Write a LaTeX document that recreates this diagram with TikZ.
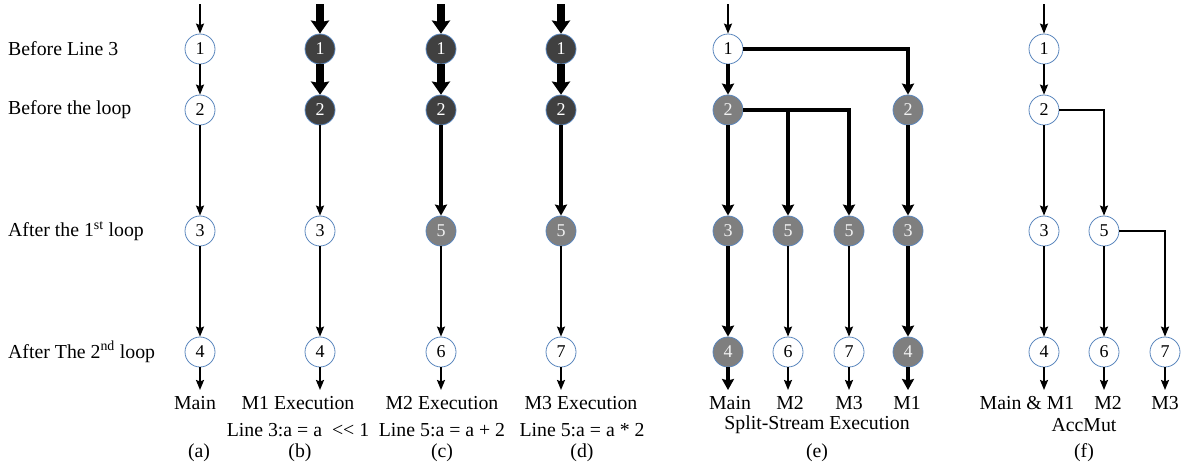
\documentclass[tikz,border=0pt]{standalone}
\usepackage{fontspec}
\setmainfont{Liberation Serif}
\usetikzlibrary{arrows.meta}
\definecolor{nodeborder}{RGB}{91,135,190}
\definecolor{darkfill}{RGB}{64,64,64}
\definecolor{grayfill}{RGB}{127,127,127}
\tikzset{
 st/.style={circle, draw=nodeborder, line width=0.8pt, minimum size=30pt, inner sep=0pt, font=\fontsize{18}{20}\selectfont},
 wn/.style={st, fill=white, text=black},
 dn/.style={st, fill=darkfill, text=white},
 gn/.style={st, fill=grayfill, text=white!95!black},
 arrA/.style={draw, line width=1.8pt, -{Stealth[length=10pt,width=8pt,inset=1.5pt]}},
 arrB/.style={draw, line width=4.5pt, -{Stealth[length=11pt,width=12pt,inset=1.5pt]}},
 arrC/.style={draw, line width=8pt, -{Stealth[length=13pt,width=18pt,inset=1.5pt]}},
 lbl/.style={font=\fontsize{19.8}{24}\selectfont, inner sep=0pt},
}
\begin{document}
\begin{tikzpicture}[x=1pt,y=-1pt]
\useasboundingbox (0,0) rectangle (1186,467);
% left labels
\node[lbl, anchor=west] (l1) at (8,49) {Before Line 3};
\node[lbl, anchor=west] (l2) at (8,110) {Before the loop};
\node[lbl, anchor=west] (l3) at (8,231) {After the 1\textsuperscript{st} loop};
\node[lbl, anchor=west] (l4) at (8,352) {After The 2\textsuperscript{nd} loop};

% (a)
\coordinate (ta) at (200,4); \coordinate (oa) at (200,390);
\node[wn] (a1) at (200,49) {1};
\node[wn] (a2) at (200,110) {2};
\node[wn] (a3) at (200,231) {3};
\node[wn] (a4) at (200,352) {4};
\path[arrA] (ta) -- (a1);
\path[arrA] (a1) -- (a2);
\path[arrA] (a2) -- (a3);
\path[arrA] (a3) -- (a4);
\path[arrA] (a4) -- (oa);
\node[lbl] (la) at (195,403) {Main};
\node[lbl] (ca) at (199,453) {(a)};

% (b)
\coordinate (tb) at (320,4); \coordinate (ob) at (320,390);
\node[dn] (b1) at (320,49) {1};
\node[dn] (b2) at (320,110) {2};
\node[wn] (b3) at (320,231) {3};
\node[wn] (b4) at (320,352) {4};
\path[arrC] (tb) -- (b1);
\path[arrC] (b1) -- (b2);
\path[arrA] (b2) -- (b3);
\path[arrA] (b3) -- (b4);
\path[arrA] (b4) -- (ob);
\node[lbl] (lb) at (298,403) {M1 Execution};
\node[lbl] (lb2) at (298,430) {Line 3:a = a\ \ <\kern0pt< 1};
\node[lbl] (cb) at (300,453) {(b)};

% (c)
\coordinate (tc) at (441,4); \coordinate (oc) at (441,390);
\node[dn] (c1) at (441,49) {1};
\node[dn] (c2) at (441,110) {2};
\node[gn] (c5) at (441,231) {5};
\node[wn] (c6) at (441,352) {6};
\path[arrC] (tc) -- (c1);
\path[arrC] (c1) -- (c2);
\path[arrB] (c2) -- (c5);
\path[arrA] (c5) -- (c6);
\path[arrA] (c6) -- (oc);
\node[lbl] (lc) at (442,403) {M2 Execution};
\node[lbl] (lc2) at (442,430) {Line 5:a = a + 2};
\node[lbl] (cc) at (442,453) {(c)};

% (d)
\coordinate (td) at (561,4); \coordinate (od) at (561,390);
\node[dn] (d1) at (561,49) {1};
\node[dn] (d2) at (561,110) {2};
\node[gn] (d5) at (561,231) {5};
\node[wn] (d7) at (561,352) {7};
\path[arrC] (td) -- (d1);
\path[arrC] (d1) -- (d2);
\path[arrB] (d2) -- (d5);
\path[arrA] (d5) -- (d7);
\path[arrA] (d7) -- (od);
\node[lbl] (ld) at (581,403) {M3 Execution};
\node[lbl] (ld2) at (582,430) {Line 5:a = a * 2};
\node[lbl] (cd) at (582,453) {(d)};

% (e)
\coordinate (te) at (728,4);
\coordinate (oe1) at (728,390); \coordinate (oe2) at (788,390);
\coordinate (oe3) at (849,390); \coordinate (oe4) at (908,390);
\node[wn] (e1) at (728,49) {1};
\node[gn] (e2) at (728,110) {2};
\node[gn] (e2r) at (908,110) {2};
\node[gn] (e3) at (728,231) {3};
\node[gn] (e5a) at (788,231) {5};
\node[gn] (e5b) at (849,231) {5};
\node[gn] (e3r) at (908,231) {3};
\node[gn] (e4) at (728,352) {4};
\node[wn] (e6) at (788,352) {6};
\node[wn] (e7) at (849,352) {7};
\node[gn] (e4r) at (908,352) {4};
\path[arrA] (te) -- (e1);
\path[arrB] (e1) -- (e2);
\path[arrB] (e1.east) -| (e2r.north);
\path[arrB] (e2) -- (e3);
\path[arrB] (e2.east) -| (e5a.north);
\path[arrB] (e2.east) -| (e5b.north);
\path[arrB] (e2r) -- (e3r);
\path[arrB] (e3) -- (e4);
\path[arrA] (e5a) -- (e6);
\path[arrA] (e5b) -- (e7);
\path[arrB] (e3r) -- (e4r);
\path[arrB] (e4) -- (oe1);
\path[arrA] (e6) -- (oe2);
\path[arrA] (e7) -- (oe3);
\path[arrB] (e4r) -- (oe4);
\node[lbl] (le1) at (730,403) {Main};
\node[lbl] (le2) at (790,403) {M2};
\node[lbl] (le3) at (849,403) {M3};
\node[lbl] (le4) at (907,403) {M1};
\node[lbl] (le5) at (817,425) {Split-Stream Execution};
\node[lbl] (ce) at (817,453) {(e)};

% (f)
\coordinate (tf) at (1044,4);
\coordinate (of1) at (1044,390); \coordinate (of2) at (1104,390); \coordinate (of3) at (1165,390);
\node[wn] (f1) at (1044,49) {1};
\node[wn] (f2) at (1044,110) {2};
\node[wn] (f3) at (1044,231) {3};
\node[wn] (f5) at (1104,231) {5};
\node[wn] (f4) at (1044,352) {4};
\node[wn] (f6) at (1104,352) {6};
\node[wn] (f7) at (1165,352) {7};
\path[arrA] (tf) -- (f1);
\path[arrA] (f1) -- (f2);
\path[arrA] (f2) -- (f3);
\path[arrA] (f2.east) -| (f5.north);
\path[arrA] (f3) -- (f4);
\path[arrA] (f5) -- (f6);
\path[arrA] (f5.east) -| (f7.north);
\path[arrA] (f4) -- (of1);
\path[arrA] (f6) -- (of2);
\path[arrA] (f7) -- (of3);
\node[lbl] (lf1) at (1027,403) {Main \& M1};
\node[lbl] (lf2) at (1108,403) {M2};
\node[lbl] (lf3) at (1165,403) {M3};
\node[lbl] (lf4) at (1084,425) {AccMut};
\node[lbl] (cf) at (1084,453) {(f)};
\end{tikzpicture}
\end{document}
